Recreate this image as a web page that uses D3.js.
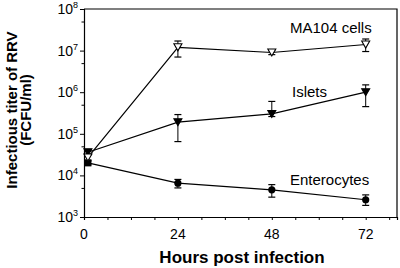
<!DOCTYPE html>
<html>
<head>
<meta charset="utf-8">
<script src="https://cdn.jsdelivr.net/npm/d3@7"></script>
<style>
  body { margin: 0; background: #fff; }
  svg { display: block; font-family: "Liberation Sans", Arial, sans-serif; }
</style>
</head>
<body>
<svg id="chart" width="400" height="268"></svg>
<script>
// Data (first samples sit just right of the y axis)
const hours = [1, 24, 48, 72];
const ma104 = [2.7e4, 1.2e7, 9.0e6, 1.4e7];
const ma104Lo = [2.3e4, 7.0e6, 8.0e6, 9.5e6];
const ma104Hi = [3.1e4, 1.7e7, 1.0e7, 1.9e7];
const islets = [3.6e4, 1.9e5, 3.0e5, 1.0e6];
const isletsLo = [3.2e4, 6.5e4, 2.6e5, 4.5e5];
const isletsHi = [4.0e4, 2.9e5, 6.0e5, 1.5e6];
const entero = [2.0e4, 6.5e3, 4.5e3, 2.6e3];
const enteroLo = [1.8e4, 5.0e3, 3.0e3, 1.9e3];
const enteroHi = [2.2e4, 8.0e3, 6.0e3, 3.4e3];
const yExponents = [3, 4, 5, 6, 7, 8];
const xTickLabels = [0, 24, 48, 72];

const svg = d3.select("#chart");
const mLeft = 84, mRight = 397, mTop = 9, mBottom = 217;

// Scales
let x = d3.scaleLinear().domain([0, 80]).range([mLeft, mRight]);
let y = d3.scaleLog().domain([1e3, 1e8]).range([mBottom, mTop]);

// Box (top and right borders)
svg.append("path")
    .attr("d", `M${mLeft},${mTop}H${mRight}V${mBottom}`)
    .attr("fill", "none").attr("stroke", "#000").attr("stroke-width", 1.2);

// Y axis
const yAxis = svg.append("g").attr("transform", `translate(${mLeft},0)`)
    .call(d3.axisLeft(y).tickValues(yExponents.map(e => Math.pow(10, e))).tickSize(4).tickFormat(""));
yAxis.select(".domain").attr("stroke-width", 1.2);
svg.append("g").attr("transform", `translate(${mLeft},0)`)
    .call(d3.axisLeft(y).tickValues(yExponents.slice(0, -1).map(e => 5 * Math.pow(10, e))).tickSize(2.5).tickFormat(""))
    .select(".domain").remove();

yExponents.forEach(e => {
    const t = svg.append("text")
        .attr("x", mLeft - 6).attr("y", y(Math.pow(10, e)) + 5)
        .attr("text-anchor", "end").attr("font-size", 14);
    t.append("tspan").text("10");
    t.append("tspan").attr("dy", -6).attr("font-size", 9).text(e);
});

// X axis
const xAxis = svg.append("g").attr("transform", `translate(0,${mBottom})`)
    .call(d3.axisBottom(x).tickValues(d3.range(0, 81, 6)).tickSize(3).tickFormat(""));
xAxis.select(".domain").attr("stroke-width", 1.2);
xTickLabels.forEach(v => {
    svg.append("text")
        .attr("x", x(v)).attr("y", 239)
        .attr("text-anchor", "middle").attr("font-size", 14)
        .text(v);
});

// Axis titles
svg.append("text")
    .attr("x", 242).attr("y", 263)
    .attr("text-anchor", "middle").attr("font-size", 17).attr("font-weight", "bold")
    .text("Hours post infection");
svg.append("text")
    .attr("transform", "translate(17,110) rotate(-90)")
    .attr("text-anchor", "middle").attr("font-size", 15).attr("font-weight", "bold")
    .text("Infectious titer of RRV");
svg.append("text")
    .attr("transform", "translate(31,110) rotate(-90)")
    .attr("text-anchor", "middle").attr("font-size", 15).attr("font-weight", "bold")
    .text("(FCFU/ml)");

const line = d3.line().x(d => x(d[0])).y(d => y(d[1]));

function drawSeries(vals, lo, hi, marker) {
    const pts = hours.map((h, i) => [h, vals[i]]);
    const g = svg.append("g");
    g.append("path").attr("d", line(pts))
        .attr("fill", "none").attr("stroke", "#000").attr("stroke-width", 1.2);
    // error bars
    hours.forEach((h, i) => {
        const cx = x(h);
        g.append("line").attr("x1", cx).attr("x2", cx)
            .attr("y1", y(lo[i])).attr("y2", y(hi[i])).attr("stroke", "#000");
        [lo[i], hi[i]].forEach(v => {
            g.append("line").attr("x1", cx - 3.5).attr("x2", cx + 3.5)
                .attr("y1", y(v)).attr("y2", y(v)).attr("stroke", "#000").attr("stroke-width", 1.2);
        });
    });
    // markers
    pts.forEach((p, i) => marker(g, x(p[0]), y(p[1]), i));
}

function triDown(filled) {
    return (g, cx, cy) => g.append("path")
        .attr("d", `M${cx - 4},${cy - 3.5}L${cx + 4},${cy - 3.5}L${cx},${cy + 3.5}Z`)
        .attr("fill", filled ? "#000" : "#fff").attr("stroke", "#000").attr("stroke-width", 1.1);
}
function dot(g, cx, cy, i) {
    if (i === 0) {
        // the first enterocyte point is drawn as a square in the figure
        g.append("rect").attr("x", cx - 3.5).attr("y", cy - 3.5)
            .attr("width", 7).attr("height", 7).attr("fill", "#000");
    } else {
        g.append("circle").attr("cx", cx).attr("cy", cy).attr("r", 3.6).attr("fill", "#000");
    }
}

drawSeries(entero, enteroLo, enteroHi, dot);
drawSeries(islets, isletsLo, isletsHi, triDown(true));
drawSeries(ma104, ma104Lo, ma104Hi, triDown(false));

// Series labels
svg.append("text").attr("x", 290).attr("y", 33).attr("font-size", 15).text("MA104 cells");
svg.append("text").attr("x", 292).attr("y", 97).attr("font-size", 15).text("Islets");
svg.append("text").attr("x", 290).attr("y", 185).attr("font-size", 15).text("Enterocytes");
</script>
</body>
</html>
